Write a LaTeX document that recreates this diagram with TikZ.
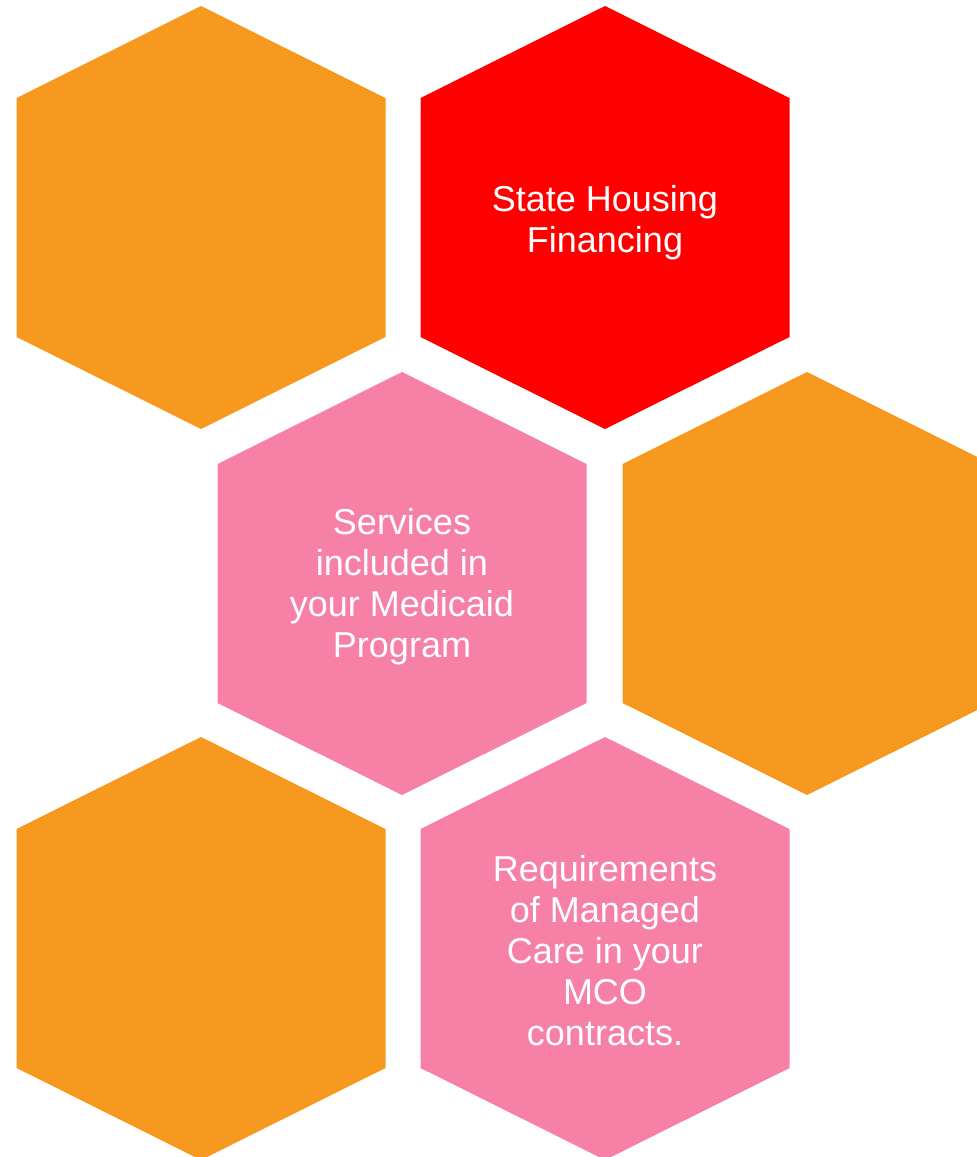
\documentclass[tikz,border=0pt]{standalone}
\usepackage{fontspec}
\setmainfont{Liberation Sans}
\usepackage{xcolor}
\usepackage{tikz}

\definecolor{honeyorange}{HTML}{F7981F}
\definecolor{honeyred}{HTML}{FF0000}
\definecolor{honeypink}{HTML}{F780A7}

% one hexagon cell, centred at (#1,#2)
\newcommand{\honeycell}[3]{%
	\fill[#3] (#1,#2) ++(0,-211.5) -- ++(184.5,92) -- ++(0,239)
		-- ++(-184.5,92) -- ++(-184.5,-92) -- ++(0,-239) -- cycle;}

\tikzset{celltext/.style={text=white, align=center,
	font=\fontsize{36}{41}\selectfont}}

\begin{document}
\begin{tikzpicture}[x=1pt,y=-1pt]
		\useasboundingbox (0,0) rectangle (977,1157);
		\clip (0,0) rectangle (977,1157);
		\honeycell{201}{217.5}{honeyorange}
		\honeycell{605}{217.5}{honeyred}
		\honeycell{402}{583.5}{honeypink}
		\honeycell{807}{583.5}{honeyorange}
		\honeycell{201}{948.5}{honeyorange}
		\honeycell{605}{948.5}{honeypink}
		\node[celltext] (housing) at (605,223) {State Housing\\Financing};
		\node[celltext] (services) at (402,587) {Services\\included in\\your Medicaid\\Program};
		\node[celltext] (mco) at (605,951) {Requirements\\of Managed\\Care in your\\MCO\\contracts.};
	\end{tikzpicture}
\end{document}
